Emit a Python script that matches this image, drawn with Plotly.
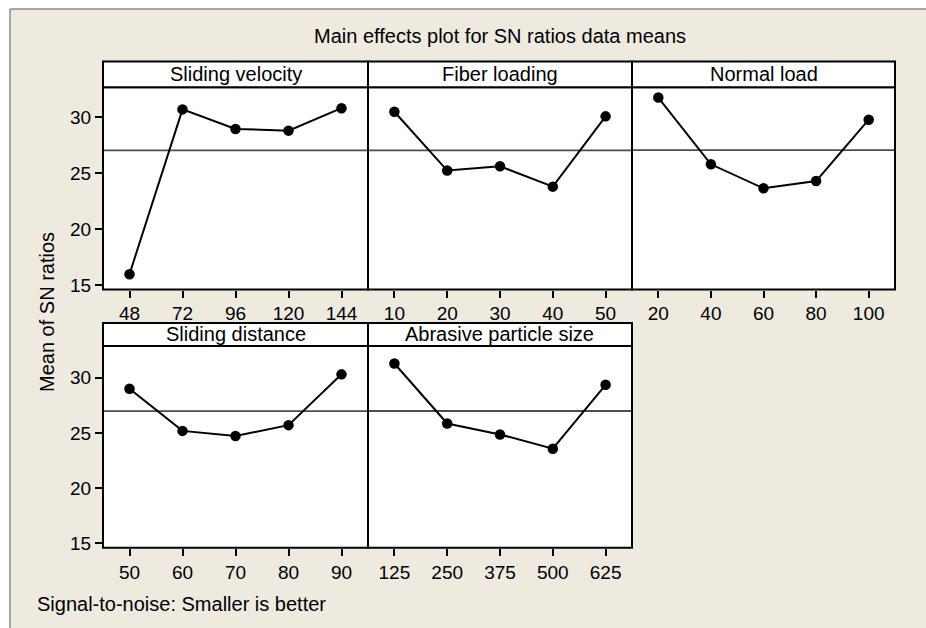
import numpy as np
import plotly.graph_objects as go

W, H = 926, 628

# ---------------- data ----------------
title = "Main effects plot for SN ratios data means"
y_title = "Mean of SN ratios"
footer = "Signal-to-noise: Smaller is better"

factors = ["Sliding velocity", "Fiber loading", "Normal load",
           "Sliding distance", "Abrasive particle size"]

levels_velocity = ["48", "72", "96", "120", "144"]
sn_velocity = [15.97, 30.71, 28.96, 28.81, 30.82]

levels_fiber = ["10", "20", "30", "40", "50"]
sn_fiber = [30.50, 25.24, 25.62, 23.80, 30.09]

levels_load = ["20", "40", "60", "80", "100"]
sn_load = [31.77, 25.80, 23.65, 24.30, 29.79]

levels_distance = ["50", "60", "70", "80", "90"]
sn_distance = [28.99, 25.18, 24.71, 25.70, 30.30]

levels_particle = ["125", "250", "375", "500", "625"]
sn_particle = [31.28, 25.85, 24.86, 23.57, 29.35]

y_ticks = [15, 20, 25, 30]

all_levels = [levels_velocity, levels_fiber, levels_load, levels_distance, levels_particle]
all_sn = [sn_velocity, sn_fiber, sn_load, sn_distance, sn_particle]

# ---------------- layout geometry (pixels) ----------------
def px_x(v):
    return v / W

def px_y(v):
    return 1 - v / H

col_edges = [(103, 368), (368, 632), (632, 895)]
rows = [
    dict(strip=(62, 88), plot=(88, 292.3), yrange=[14.6, 32.7]),
    dict(strip=(326, 349.3), plot=(349.3, 553), yrange=[14.6, 32.87]),
]
positions = [(0, 0), (0, 1), (0, 2), (1, 0), (1, 1)]

FONT = "Arial, Liberation Sans, sans-serif"
BG = "#EEEAE0"

fig = go.Figure()
shapes = []
annotations = []

for i, (r, c) in enumerate(positions):
    k = "" if i == 0 else str(i + 1)
    x0, x1 = col_edges[c]
    row = rows[r]
    p0, p1 = row["plot"]
    fig.add_trace(go.Scatter(
        x=all_levels[i], y=all_sn[i], mode="lines+markers",
        line=dict(color="black", width=2),
        marker=dict(color="black", size=10.5),
        xaxis="x" + k, yaxis="y" + k, showlegend=False, hoverinfo="x+y",
    ))
    fig.update_layout(**{
        "xaxis" + k: dict(
            domain=[px_x(x0), px_x(x1)], anchor="y" + k, type="category",
            range=[-0.5, 4.5], showgrid=False, zeroline=False, showline=False,
            ticks="outside", ticklen=7, tickwidth=2, tickcolor="black",
            tickfont=dict(family=FONT, size=19, color="black"),
        ),
        "yaxis" + k: dict(
            domain=[px_y(p1), px_y(p0)], anchor="x" + k,
            range=row["yrange"], showgrid=False, zeroline=False, showline=False,
            tickvals=y_ticks,
            ticks="outside" if c == 0 else "", ticklen=7, tickwidth=2, tickcolor="black",
            showticklabels=(c == 0),
            tickfont=dict(family=FONT, size=19, color="black"),
        ),
    })
    # reference line: mean of the panel
    mean_val = float(np.mean(all_sn[i]))
    shapes.append(dict(type="line", xref="x" + k + " domain", yref="y" + k,
                       x0=0, x1=1, y0=mean_val, y1=mean_val,
                       line=dict(color="#4d4d4d", width=1.8), layer="below"))
    # panel frame
    shapes.append(dict(type="rect", xref="paper", yref="paper",
                       x0=px_x(x0), x1=px_x(x1), y0=px_y(p1), y1=px_y(p0),
                       fillcolor="rgba(0,0,0,0)", line=dict(color="black", width=2)))
    # strip
    s0, s1 = row["strip"]
    shapes.append(dict(type="rect", xref="paper", yref="paper",
                       x0=px_x(x0), x1=px_x(x1), y0=px_y(s1), y1=px_y(s0),
                       fillcolor="white", line=dict(color="black", width=2)))
    annotations.append(dict(text=factors[i], xref="paper", yref="paper",
                            x=px_x((x0 + x1) / 2), y=px_y((s0 + s1) / 2),
                            xanchor="center", yanchor="middle", showarrow=False,
                            font=dict(family=FONT, size=20, color="black")))

# white outer margin + grey frame
shapes.append(dict(type="rect", xref="paper", yref="paper", x0=0, x1=1,
                   y0=px_y(9), y1=1.01, fillcolor="white", line=dict(width=0), layer="below"))
shapes.append(dict(type="rect", xref="paper", yref="paper", x0=-0.01, x1=px_x(10),
                   y0=-0.01, y1=1.01, fillcolor="white", line=dict(width=0), layer="below"))
shapes.append(dict(type="line", xref="paper", yref="paper", x0=px_x(10), x1=1.01,
                   y0=px_y(9), y1=px_y(9), line=dict(color="#8c8c8c", width=1.5)))
shapes.append(dict(type="line", xref="paper", yref="paper", x0=px_x(10), x1=px_x(10),
                   y0=px_y(9), y1=-0.01, line=dict(color="#8c8c8c", width=1.5)))

annotations.append(dict(text=title, xref="paper", yref="paper",
                        x=px_x(500), y=px_y(36), xanchor="center", yanchor="middle",
                        showarrow=False, font=dict(family=FONT, size=20, color="black")))
annotations.append(dict(text=y_title, xref="paper", yref="paper", textangle=-90,
                        x=px_x(47), y=px_y(315), xanchor="center", yanchor="middle",
                        showarrow=False, font=dict(family=FONT, size=20, color="black")))
annotations.append(dict(text=footer, xref="paper", yref="paper",
                        x=px_x(35), y=px_y(610), xanchor="left", yanchor="middle",
                        showarrow=False, font=dict(family=FONT, size=20, color="black")))

fig.update_layout(
    width=W, height=H, margin=dict(l=0, r=0, t=0, b=0),
    paper_bgcolor=BG, plot_bgcolor="white",
    shapes=shapes, annotations=annotations, showlegend=False,
)

fig.write_html(
    "out.html",
    config={"displayModeBar": False},
    post_script="document.body.style.margin='0';document.body.style.overflow='hidden';",
)
